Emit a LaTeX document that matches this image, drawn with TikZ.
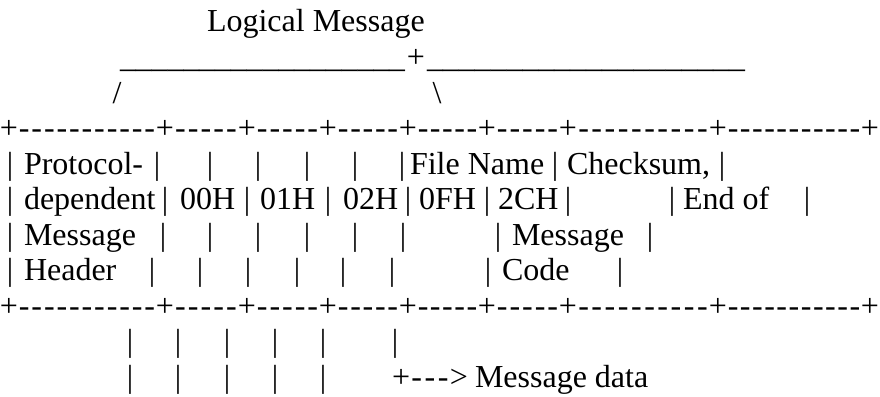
\documentclass[tikz,border=0pt]{standalone}
\usepackage{fontspec}
\setmainfont{Liberation Serif}[Ligatures={TeXOff,NoCommon}]
\usepackage{graphicx}
\ExplSyntaxOn
\cs_new:Npn \myrep #1#2 { \prg_replicate:nn {#1} {#2} }
\ExplSyntaxOff
\newcommand\asciifont{\fontsize{32}{38}\selectfont}
\tikzset{
  txt/.style={anchor=base west, inner sep=0pt, outer sep=0pt, font=\asciifont},
  ctr/.style={anchor=base, inner sep=0pt, outer sep=0pt, font=\asciifont}
}
\begin{document}
\begin{tikzpicture}[x=1pt,y=-1pt]
\useasboundingbox[fill=white] (0,0) rectangle (880,396);
% title
\node[txt] (title) at (207,32) {Logical Message};
% brace of underscores
\node[ctr] (uplus) at (416,67.5) {+};
\node[txt] (uleft) at (120,67.5) {\resizebox*{285pt}{\totalheight}{\myrep{18}{\symbol{95}}}};
\node[txt] (uright) at (427,67.5) {\resizebox*{318pt}{\totalheight}{\myrep{20}{\symbol{95}}}};
\node[ctr] (slash) at (117,103) {/};
\node[ctr] (bslash) at (437,103) {\textbackslash};
% borders
\foreach \yy/\bn in {138.5/t, 316/b}{
  \foreach \px [count=\k] in {9,165,247,328,408,487,568,718,870}{
    \node[ctr] (\bn plus\k) at (\px,\yy) {+};
  }
  \foreach \a/\b/\n [count=\k] in {9/165/11,165/247/5,247/328/5,328/408/5,408/487/5,487/568/5,568/718/10,718/870/11}{
    \node[ctr] (\bn dash\k) at ({(\a+\b)/2},\yy) {\hbox to \dimexpr\b pt-\a pt-18pt\relax{\myrep{\n}{\hss-\hss}}};
  }
}
% row 1
\foreach \px [count=\k] in {10,157,210,258,307,355,402,555,722}{
  \node[ctr] (ra\k) at (\px,174) {|};
}
\node[txt] (protocol) at (24,174) {Protocol-};
\node[txt] (filename) at (410,174) {File Name};
\node[txt] (checksum) at (567,174) {Checksum,};
% row 2
\foreach \px [count=\k] in {10,165,247,328,408,487,568,672,807}{
  \node[ctr] (rb\k) at (\px,209.5) {|};
}
\node[txt] (dependent) at (24,209.5) {dependent};
\node[txt] (h00) at (180,209.5) {00H};
\node[txt] (h01) at (260,209.5) {01H};
\node[txt] (h02) at (343,209.5) {02H};
\node[txt] (h0f) at (419,209.5) {0FH};
\node[txt] (h2c) at (498,209.5) {2CH};
\node[txt] (endof) at (683,209.5) {End of};
% row 3
\foreach \px [count=\k] in {10,163,210,258,307,355,403,498,650}{
  \node[ctr] (rc\k) at (\px,245) {|};
}
\node[txt] (message1) at (24,245) {Message};
\node[txt] (message2) at (512,245) {Message};
% row 4
\foreach \px [count=\k] in {10,152,200,248,297,343,392,488,620}{
  \node[ctr] (rd\k) at (\px,280.5) {|};
}
\node[txt] (header) at (24,280.5) {Header};
\node[txt] (code) at (502,280.5) {Code};
% below
\foreach \px [count=\k] in {130,178,227,275,323,395}{
  \node[ctr] (re\k) at (\px,351.5) {|};
}
\foreach \px [count=\k] in {130,178,227,275,323}{
  \node[ctr] (rf\k) at (\px,387) {|};
}
\node[txt] (arrow) at (392,387) {\hbox to 76pt{+\myrep{3}{\hss-\hss}>}};
\node[txt] (msgdata) at (475,387) {Message data};
\end{tikzpicture}
\end{document}
